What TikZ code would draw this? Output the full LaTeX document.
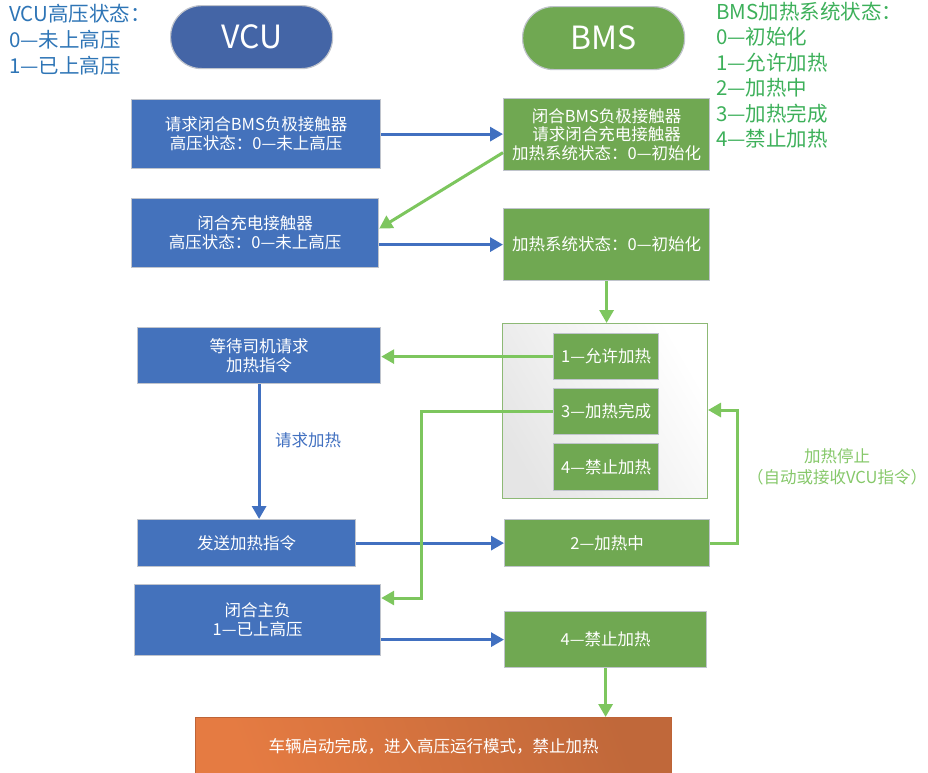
\documentclass[tikz,border=0pt]{standalone}
\usepackage{fontspec}
\setmainfont{Noto Sans CJK SC}
\usetikzlibrary{arrows.meta,calc}
\definecolor{boxblue}{HTML}{4472BC}
\definecolor{pillblue}{HTML}{4465A6}
\definecolor{boxgreen}{HTML}{70A852}
\definecolor{linkblue}{HTML}{4170C0}
\definecolor{linkgreen}{HTML}{7DC65E}
\definecolor{legblue}{HTML}{2E75B6}
\definecolor{leggreen}{HTML}{3DB05A}
\definecolor{notegreen}{HTML}{86C86A}
\definecolor{edge}{HTML}{C0C4CC}
\tikzset{
  x=1pt, y=-1pt,
  txt/.style={font=\fontsize{16.5}{19}\selectfont, text=white, align=center, inner sep=0pt},
  bluebox/.style={txt, draw=edge, line width=1.2pt, fill=boxblue, anchor=north west},
  greenbox/.style={txt, draw=edge, line width=1.2pt, fill=boxgreen, anchor=north west},
  pill/.style={draw=edge, line width=1.2pt, rounded corners=31pt, anchor=north west,
    minimum width=162pt, minimum height=63pt, text=white,
    font=\fontsize{32}{36}\selectfont, inner sep=0pt},
  legend/.style={anchor=north west, align=left, inner sep=0pt},
  barrow/.style={draw=linkblue, line width=3pt, -{Triangle[length=13pt,width=14pt]}},
  garrow/.style={draw=linkgreen, line width=3pt, -{Triangle[length=13pt,width=14pt]}},
}
\begin{document}
\begin{tikzpicture}
\useasboundingbox (0,0) rectangle (928,772);

% headers and legends
\node[pill, fill=pillblue] (vcu) at (170,5) {VCU};
\node[pill, fill=boxgreen] (bms) at (522,6) {BMS};
\node[legend, text=legblue, font=\fontsize{20.5}{26}\selectfont] (vleg) at (9,4)
  {VCU高压状态：\\0—未上高压\\1—已上高压};
\node[legend, text=leggreen, font=\fontsize{20.5}{25.4}\selectfont] (bleg) at (716,2)
  {BMS加热系统状态：\\0—初始化\\1—允许加热\\2—加热中\\3—加热完成\\4—禁止加热};

% VCU column
\node[bluebox, minimum width=249pt, minimum height=69pt] (A) at (131,99)
  {请求闭合BMS负极接触器\\高压状态：0—未上高压};
\node[bluebox, minimum width=247pt, minimum height=69pt] (C) at (131,198)
  {闭合充电接触器\\高压状态：0—未上高压};
\node[bluebox, minimum width=243pt, minimum height=56pt] (E) at (137,327)
  {等待司机请求\\加热指令};
\node[bluebox, minimum width=218pt, minimum height=47pt] (F) at (137,519)
  {发送加热指令};
\node[bluebox, minimum width=246pt, minimum height=71pt] (H) at (134,584)
  {闭合主负\\1—已上高压};

% BMS column
\node[greenbox, minimum width=206pt, minimum height=72pt, font=\fontsize{16.5}{18.5}\selectfont] (B) at (503,98)
  {闭合BMS负极接触器\\请求闭合充电接触器\\加热系统状态：0—初始化};
\node[greenbox, minimum width=206pt, minimum height=72pt] (D) at (503,208)
  {加热系统状态：0—初始化};
\node[draw=boxgreen!80, line width=1pt, anchor=north west, inner sep=0pt,
  minimum width=205pt, minimum height=175pt,
  left color=black!10, right color=white, shading angle=120] (cont) at (502,323) {};
\node[greenbox, minimum width=105pt, minimum height=46pt] (s1) at (553,333) {1—允许加热};
\node[greenbox, minimum width=105pt, minimum height=46pt] (s3) at (553,388) {3—加热完成};
\node[greenbox, minimum width=105pt, minimum height=47pt] (s4) at (553,443) {4—禁止加热};
\node[greenbox, minimum width=205pt, minimum height=47pt] (G) at (504,519) {2—加热中};
\node[greenbox, minimum width=202pt, minimum height=56pt] (I) at (504,611) {4—禁止加热};

% final state
\node[txt, draw={rgb,255:red,190;green,100;blue,55}, line width=1pt, anchor=north west,
  minimum width=476pt, minimum height=58pt,
  left color={rgb,255:red,229;green,123;blue,66}, right color={rgb,255:red,192;green,104;blue,58},
  shading angle=110] (J) at (195,717) {车辆启动完成，进入高压运行模式，禁止加热};

% labels
\node[font=\fontsize{16.5}{19}\selectfont, text=linkblue] (lreq) at (308,440) {请求加热};
\node[font=\fontsize{16.5}{21}\selectfont, text=notegreen, align=center] (lstop) at (837,467)
  {加热停止\\（自动或接收VCU指令）};

% connectors
\coordinate (gturn) at (737,410);
\coordinate (hturn) at (421,598);
\draw[barrow] (A.east) -- (A.east -| B.west);
\draw[garrow] ([yshift=-18pt]B.west) -- ([yshift=4.5pt]C.east);
\draw[barrow] (D.west -| C.east) -- (D.west);
\draw[garrow] (D.south) -- (D.south |- cont.north);
\draw[garrow] (s1.west) -- (s1.west -| E.east);
\draw[barrow] (E.south) -- (E.south |- F.north);
\draw[barrow] (F.east) -- (F.east -| G.west);
\draw[garrow] (G.east) -| (gturn) -- (gturn -| cont.east);
\draw[garrow] (s3.west) -| (hturn) -- (hturn -| H.east);
\draw[barrow] (I.west -| H.east) -- (I.west);
\draw[garrow] (I.south) -- (I.south |- J.north);
\end{tikzpicture}
\end{document}
